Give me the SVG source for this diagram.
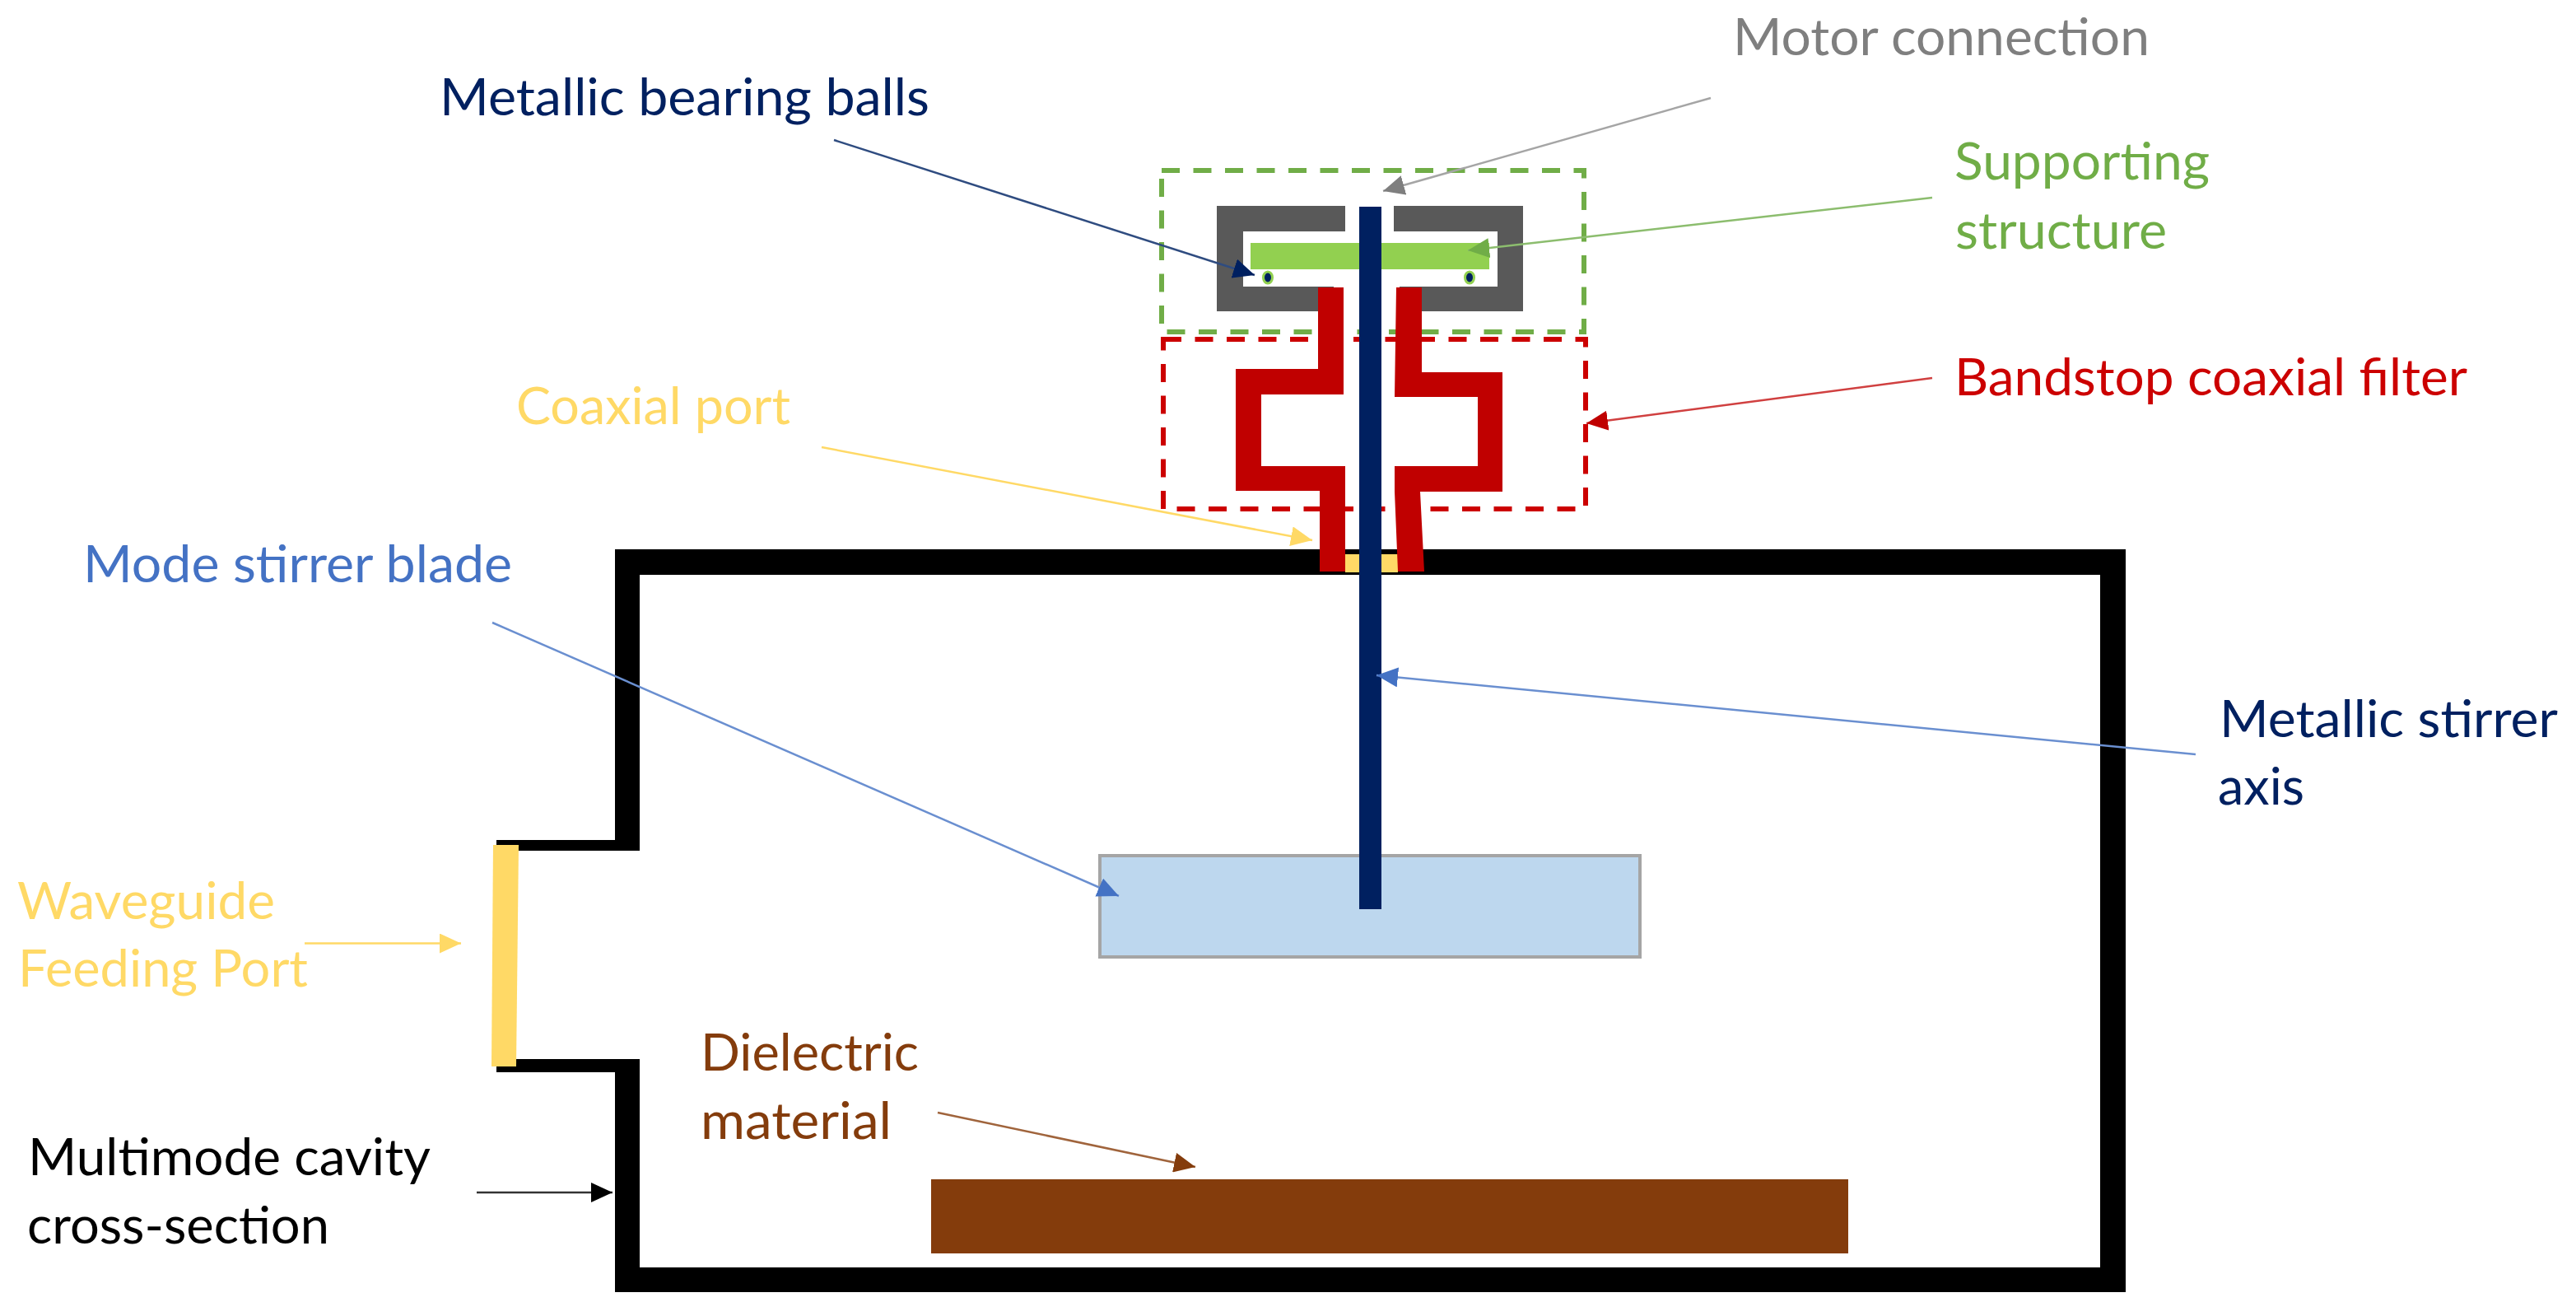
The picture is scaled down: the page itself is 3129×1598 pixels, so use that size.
<svg xmlns="http://www.w3.org/2000/svg" width="3129" height="1598" viewBox="0 0 3129 1598">
<defs>
<style>
text{font-family:"Lato","Liberation Sans",sans-serif;font-size:62px}
.con{fill:none;stroke-width:2.5}
.dash{fill:none;stroke-width:6;stroke-dasharray:22 16.5}
</style>
<marker id="m-navy" markerUnits="userSpaceOnUse" viewBox="0 0 10 10" refX="10" refY="5" markerWidth="26" markerHeight="24" orient="auto" preserveAspectRatio="none"><path d="M0 0L10 5L0 10Z" fill="#002060"/></marker>
<marker id="m-gray" markerUnits="userSpaceOnUse" viewBox="0 0 10 10" refX="10" refY="5" markerWidth="26" markerHeight="24" orient="auto" preserveAspectRatio="none"><path d="M0 0L10 5L0 10Z" fill="#7F7F7F"/></marker>
<marker id="m-green" markerUnits="userSpaceOnUse" viewBox="0 0 10 10" refX="10" refY="5" markerWidth="26" markerHeight="24" orient="auto" preserveAspectRatio="none"><path d="M0 0L10 5L0 10Z" fill="#70AD47"/></marker>
<marker id="m-red" markerUnits="userSpaceOnUse" viewBox="0 0 10 10" refX="10" refY="5" markerWidth="26" markerHeight="24" orient="auto" preserveAspectRatio="none"><path d="M0 0L10 5L0 10Z" fill="#C00000"/></marker>
<marker id="m-yellow" markerUnits="userSpaceOnUse" viewBox="0 0 10 10" refX="10" refY="5" markerWidth="26" markerHeight="24" orient="auto" preserveAspectRatio="none"><path d="M0 0L10 5L0 10Z" fill="#FFD966"/></marker>
<marker id="m-blue" markerUnits="userSpaceOnUse" viewBox="0 0 10 10" refX="10" refY="5" markerWidth="26" markerHeight="24" orient="auto" preserveAspectRatio="none"><path d="M0 0L10 5L0 10Z" fill="#4472C4"/></marker>
<marker id="m-brown" markerUnits="userSpaceOnUse" viewBox="0 0 10 10" refX="10" refY="5" markerWidth="26" markerHeight="24" orient="auto" preserveAspectRatio="none"><path d="M0 0L10 5L0 10Z" fill="#843C0C"/></marker>
<marker id="m-black" markerUnits="userSpaceOnUse" viewBox="0 0 10 10" refX="10" refY="5" markerWidth="26" markerHeight="24" orient="auto" preserveAspectRatio="none"><path d="M0 0L10 5L0 10Z" fill="#000"/></marker>
</defs>
<rect width="3129" height="1598" fill="#fff"/>
<g id="cavity">
<path fill="#000" d="M747 667H2582V1569H747V1302H603V1286H777V1539H2551V698H777V1033H603V1020H747Z"/>
<text x="34" y="1427" fill="#000" textLength="489" lengthAdjust="spacingAndGlyphs">Multimode cavity</text>
<text x="33" y="1510" fill="#000" textLength="367" lengthAdjust="spacingAndGlyphs">cross-section</text>
</g>
<g id="waveguide-port">
<path fill="#FFD966" d="M599 1026H630L627 1295H597Z"/>
<text x="21" y="1116" fill="#FFD966" textLength="313" lengthAdjust="spacingAndGlyphs">Waveguide</text>
<text x="22" y="1198" fill="#FFD966" textLength="352" lengthAdjust="spacingAndGlyphs">Feeding Port</text>
</g>
<g id="dielectric">
<rect x="1131" y="1432" width="1114" height="90" fill="#843C0C"/>
<text x="851" y="1300" fill="#843C0C" textLength="265" lengthAdjust="spacingAndGlyphs">Dielectric</text>
<text x="851" y="1383" fill="#843C0C" textLength="232" lengthAdjust="spacingAndGlyphs">material</text>
</g>
<g id="blade">
<rect x="1336" y="1039" width="656" height="123" fill="#BDD7EE" stroke="#A5A5A5" stroke-width="4"/>
<text x="101" y="707" fill="#4472C4" textLength="521" lengthAdjust="spacingAndGlyphs">Mode stirrer blade</text>
</g>
<g id="supporting-structure">
<rect x="1411" y="207" width="513" height="196" class="dash" stroke="#70AD47"/>
<path fill="#595959" d="M1478 250H1634V281H1510V348H1620V378H1478Z"/>
<path fill="#595959" d="M1693 250H1850V378H1700V348H1819V281H1693Z"/>
<rect x="1519" y="295" width="290" height="32" fill="#92D050"/>
<text x="2374" y="218" fill="#70AD47" textLength="310" lengthAdjust="spacingAndGlyphs">Supporting</text>
<text x="2375" y="302" fill="#70AD47" textLength="257" lengthAdjust="spacingAndGlyphs">structure</text>
</g>
<g id="bearing-balls">
<ellipse cx="1540" cy="337" rx="5.500" ry="7" fill="#002060" stroke="#92D050" stroke-width="3"/>
<ellipse cx="1785" cy="337" rx="5.500" ry="7" fill="#002060" stroke="#92D050" stroke-width="3"/>
<text x="534" y="140" fill="#002060" textLength="595" lengthAdjust="spacingAndGlyphs">Metallic bearing balls</text>
</g>
<g id="coaxial-port">
<rect x="1634" y="673" width="64" height="22" fill="#FFD966"/>
<text x="627" y="515" fill="#FFD966" textLength="333" lengthAdjust="spacingAndGlyphs">Coaxial port</text>
</g>
<g id="bandstop-filter">
<rect x="1413" y="412" width="513" height="206" class="dash" stroke="#CC0000"/>
<path fill="#C00000" d="M1601 349H1632V479H1532V566H1634V694H1603V596H1501V448H1601Z"/>
<path fill="#C00000" d="M1696 349H1727V452H1825V597H1725L1730 694H1698L1694 597V566H1795V482H1694Z"/>
<text x="2374" y="480" fill="#CC0000" textLength="623" lengthAdjust="spacingAndGlyphs">Bandstop coaxial filter</text>
</g>
<g id="stirrer-axis">
<rect x="1651" y="251" width="27" height="853" fill="#002060"/>
<text x="2696" y="895" fill="#002060" textLength="411" lengthAdjust="spacingAndGlyphs">Metallic stirrer</text>
<text x="2694" y="977" fill="#002060" textLength="105" lengthAdjust="spacingAndGlyphs">axis</text>
</g>
<g id="motor-connection">
<text x="2105" y="67" fill="#7F7F7F" textLength="506" lengthAdjust="spacingAndGlyphs">Motor connection</text>
</g>
<g id="connectors">
<line class="con" x1="1013" y1="170" x2="1524" y2="334" stroke="#2F4C80" marker-end="url(#m-navy)"/>
<line class="con" x1="2078" y1="119" x2="1680" y2="232" stroke="#A5A5A5" marker-end="url(#m-gray)"/>
<line class="con" x1="2347" y1="240" x2="1783" y2="304" stroke="#8CBD6E" marker-end="url(#m-green)"/>
<line class="con" x1="2347" y1="459" x2="1927" y2="514" stroke="#D04040" marker-end="url(#m-red)"/>
<line class="con" x1="998" y1="543" x2="1594" y2="656" stroke="#FFD966" marker-end="url(#m-yellow)"/>
<line class="con" x1="598" y1="756" x2="1359" y2="1088" stroke="#6A8FD0" marker-end="url(#m-blue)"/>
<line class="con" x1="2667" y1="916" x2="1672" y2="820" stroke="#6A8FD0" marker-end="url(#m-blue)"/>
<line class="con" x1="370" y1="1145.500" x2="560" y2="1145.500" stroke="#FFD966" marker-end="url(#m-yellow)"/>
<line class="con" x1="1139" y1="1351" x2="1452" y2="1417" stroke="#A0643C" marker-end="url(#m-brown)"/>
<line class="con" x1="579" y1="1448" x2="744" y2="1448" stroke="#333" marker-end="url(#m-black)"/>
</g>
</svg>
